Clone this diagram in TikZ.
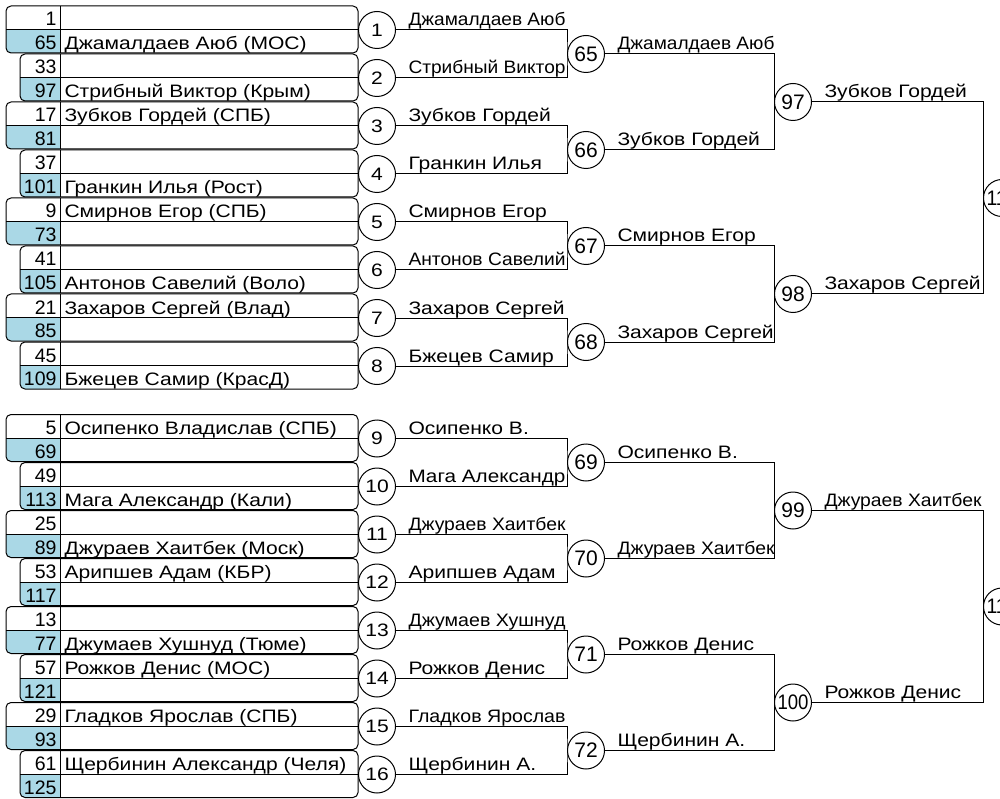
\documentclass[tikz,border=0pt]{standalone}
\usepackage{graphicx}
\usepackage{fontspec}
\setmainfont{Liberation Sans}
\newfontfamily\namefont[FakeStretch=1.17]{Liberation Sans}
\usetikzlibrary{calc}
\definecolor{seedblue}{RGB}{170,216,230}
\newsavebox\namebox
\newcommand{\fitname}[2][157pt]{\sbox\namebox{#2}\ifdim\wd\namebox>#1\resizebox{#1}{\height}{#2}\else#2\fi}

\begin{document}
\begin{tikzpicture}[x=1pt,y=-1pt,line width=1pt,
	seed/.style={anchor=base east,inner sep=0pt,font=\fontsize{19.5}{19.5}\selectfont},
	player/.style={anchor=base west,inner sep=0pt,font=\namefont\fontsize{18}{18}\selectfont},
	game/.style={circle,draw,fill=white,minimum size=37pt,inner sep=0pt,font=\namefont\fontsize{18}{18}\selectfont},
	bignum/.style={font=\fontsize{21}{21}\selectfont},
	winner/.style={anchor=base west,inner sep=0pt,font=\namefont\fontsize{18}{18}\selectfont}]
	\useasboundingbox (0,0) rectangle (1000,799);
	
	%tables and first round
	\foreach \k/\ta/\na/\tb/\nb in {
		1/1//65/Джамалдаев Аюб (МОС),
		2/33//97/Стрибный Виктор (Крым),
		3/17/Зубков Гордей (СПБ)/81/,
		4/37//101/Гранкин Илья (Рост),
		5/9/Смирнов Егор (СПБ)/73/,
		6/41//105/Антонов Савелий (Воло),
		7/21/Захаров Сергей (Влад)/85/,
		8/45//109/Бжецев Самир (КрасД),
		9/5/Осипенко Владислав (СПБ)/69/,
		10/49//113/Мага Александр (Кали),
		11/25//89/Джураев Хаитбек (Моск),
		12/53/Арипшев Адам (КБР)/117/,
		13/13//77/Джумаев Хушнуд (Тюме),
		14/57/Рожков Денис (МОС)/121/,
		15/29/Гладков Ярослав (СПБ)/93/,
		16/61/Щербинин Александр (Челя)/125/}{
		\pgfmathsetmacro\ytop{6+48*(\k-1)+(\k>8)*24.5}
		\pgfmathsetmacro\xl{mod(\k,2)==1 ? 6 : 20}
		\begin{scope}
			\clip[rounded corners=5] (\xl,\ytop) rectangle (358,\ytop+47);
			\fill[seedblue] (\xl,\ytop+23.5) rectangle (60,\ytop+47);
		\end{scope}
		\draw[rounded corners=5] (\xl,\ytop) rectangle (358,\ytop+47);
		\draw (\xl,\ytop+23.5) -- (358,\ytop+23.5);
		\draw (60,\ytop) -- (60,\ytop+47);
		\node[seed] (sa\k) at (57,\ytop+20) {\ta};
		\node[player] (pa\k) at (64,\ytop+20) {\na};
		\node[seed] (sb\k) at (57,\ytop+43.5) {\tb};
		\node[player] (pb\k) at (64,\ytop+43.5) {\nb};
		\node[game] (c\k) at (377,\ytop+24) {\k};
	}
	
	%later rounds
	\foreach \first/\prev/\count/\dx in {65/1/8/209, 97/65/4/207, 113/97/2/209}{
		\foreach \j in {1,...,\count}{
			\pgfmathtruncatemacro\n{\first+\j-1}
			\pgfmathtruncatemacro\a{\prev+2*\j-2}
			\pgfmathtruncatemacro\b{\prev+2*\j-1}
			\node[game,bignum] (c\n) at ($(c\a)!0.5!(c\b)+(\dx,0)$) {\fitname[31pt]{\n}};
			\draw (c\a.east) -| (c\n.west) |- (c\b.east);
		}
	}
	
	%winners
	\foreach \k/\w in {
		1/Джамалдаев Аюб, 2/Стрибный Виктор, 3/Зубков Гордей, 4/Гранкин Илья,
		5/Смирнов Егор, 6/Антонов Савелий, 7/Захаров Сергей, 8/Бжецев Самир,
		9/Осипенко В., 10/Мага Александр, 11/Джураев Хаитбек, 12/Арипшев Адам,
		13/Джумаев Хушнуд, 14/Рожков Денис, 15/Гладков Ярослав, 16/Щербинин А.,
		65/Джамалдаев Аюб, 66/Зубков Гордей, 67/Смирнов Егор, 68/Захаров Сергей,
		69/Осипенко В., 70/Джураев Хаитбек, 71/Рожков Денис, 72/Щербинин А.,
		97/Зубков Гордей, 98/Захаров Сергей, 99/Джураев Хаитбек, 100/Рожков Денис}{
		\node[winner] (w\k) at ([xshift=12pt,yshift=4pt]c\k.east) {\fitname{\w}};
	}
\end{tikzpicture}
\end{document}
